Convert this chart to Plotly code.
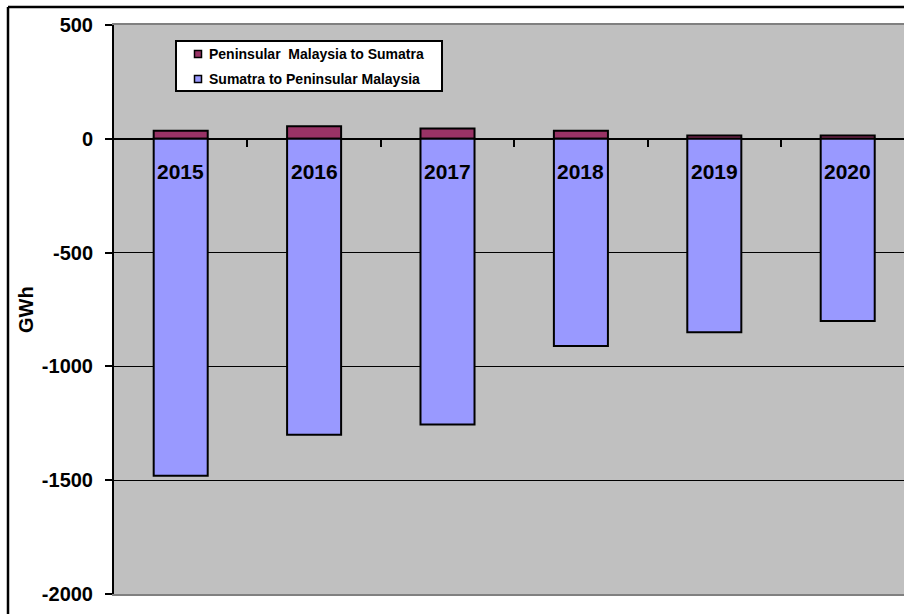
import plotly.graph_objects as go

years = ["2015", "2016", "2017", "2018", "2019", "2020"]
pm_to_sumatra = [35, 55, 45, 35, 15, 15]          # GWh exported Peninsular Malaysia -> Sumatra
sumatra_to_pm = [-1480, -1300, -1255, -910, -850, -800]  # GWh exported Sumatra -> Peninsular Malaysia
y_ticks = [500, 0, -500, -1000, -1500, -2000]
series_names = ["Peninsular  Malaysia to Sumatra", "Sumatra to Peninsular Malaysia"]
series_colors = ["#993366", "#9999FF"]

FONT = "Liberation Sans, Arial, sans-serif"
BAR_W = 0.405
label_y = -145  # vertical position of the year labels inside the bars

# plot area in pixels, used to place the frame and the legend
L, R, T, B = 114, 904, 25, 594
def px(x):
    return (x - L) / (R - L)
def py(y):
    return (B - y) / (B - T)

fig = go.Figure()
for vals, name, col in zip([pm_to_sumatra, sumatra_to_pm], series_names, series_colors):
    fig.add_trace(go.Bar(
        x=list(range(len(years))), y=vals, name=name, width=BAR_W,
        marker=dict(color=col, line=dict(color="black", width=2)),
        showlegend=False,
    ))

# category boundary ticks sitting on the zero line
bounds = [i + 0.5 for i in range(len(years))]
fig.add_trace(go.Scatter(x=bounds, y=[0] * len(bounds), xaxis="x2", yaxis="y",
                         mode="markers", marker=dict(opacity=0), showlegend=False,
                         hoverinfo="skip"))

for i, yr in enumerate(years):
    fig.add_annotation(x=i, y=label_y, text=yr, showarrow=False,
                       font=dict(family=FONT, size=21, color="black", weight="bold"),
                       xanchor="center", yanchor="middle")

fig.add_annotation(xref="paper", yref="paper", x=px(25.5), y=0.5, text="GWh",
                   textangle=-90, showarrow=False, xanchor="center", yanchor="middle",
                   font=dict(family=FONT, size=20, color="black", weight="bold"))

# outer chart frame (top and left edges)
fig.add_shape(type="line", xref="paper", yref="paper", x0=px(8), x1=px(910),
              y0=py(7), y1=py(7), line=dict(color="black", width=2.5))
fig.add_shape(type="line", xref="paper", yref="paper", x0=px(8), x1=px(8),
              y0=py(7), y1=py(620), line=dict(color="black", width=2.5))

# legend box
fig.add_shape(type="rect", xref="paper", yref="paper", x0=px(176), x1=px(442),
              y0=py(91), y1=py(41), fillcolor="white",
              line=dict(color="black", width=2))
for k, (name, col) in enumerate(zip(series_names, series_colors)):
    cy = 54 + 25 * k
    fig.add_shape(type="rect", xref="paper", yref="paper",
                  x0=px(194.5), x1=px(201.5), y0=py(cy + 3.5), y1=py(cy - 3.5),
                  fillcolor=col, line=dict(color="black", width=1.5))
    fig.add_annotation(xref="paper", yref="paper", x=px(207), y=py(cy), text=name,
                       showarrow=False, xanchor="left", yanchor="middle",
                       font=dict(family=FONT, size=14, color="black", weight="bold"))

xr = [-0.5, 5.422]
fig.update_layout(
    width=904, height=614,
    margin=dict(l=L, r=904 - R, t=T, b=614 - B),
    paper_bgcolor="white", plot_bgcolor="#C0C0C0",
    barmode="relative",
    showlegend=False,
    xaxis=dict(range=xr, showticklabels=False, ticks="",
               showgrid=False, showline=True, linecolor="#808080", linewidth=2,
               mirror=True, zeroline=False),
    xaxis2=dict(overlaying="x", range=xr, anchor="free",
                position=2000 / 2500, showticklabels=False, showgrid=False,
                showline=False, zeroline=False, ticks="outside", ticklen=7,
                tickwidth=2, tickcolor="black", tickvals=bounds),
    yaxis=dict(range=[-2000, 500], tickvals=y_ticks,
               ticktext=[str(v) for v in y_ticks],
               ticks="outside", ticklen=7,
               tickwidth=2, tickcolor="black", showline=True, linecolor="black",
               linewidth=2, showgrid=True, gridcolor="black", gridwidth=1,
               zeroline=True, zerolinecolor="black", zerolinewidth=2,
               ticklabelstandoff=8,
               tickfont=dict(family=FONT, size=20, color="black", weight="bold")),
)

fig.write_html("out.html")
